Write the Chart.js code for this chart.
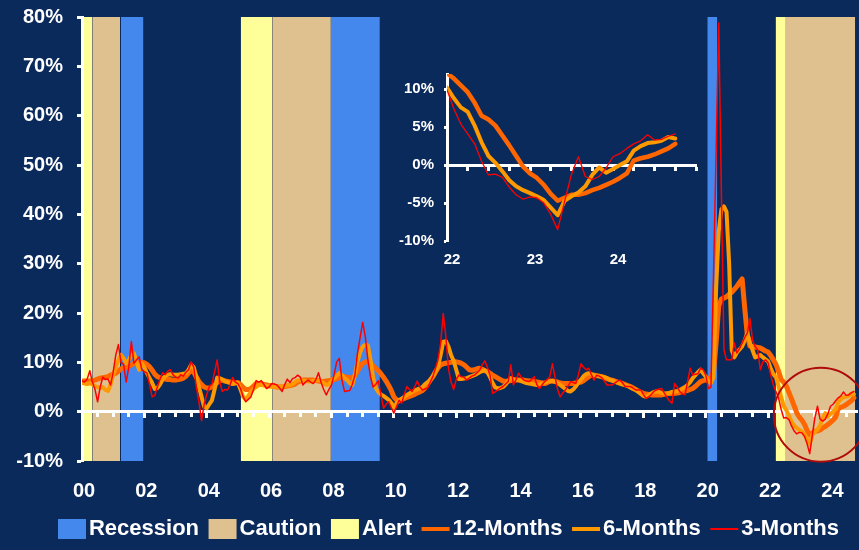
<!DOCTYPE html>
<html>
<head>
<meta charset="utf-8">
<script src="https://cdn.jsdelivr.net/npm/chart.js@4.4.1/dist/chart.umd.min.js"></script>
<style>
  html, body { margin: 0; padding: 0; background: #0b2a5c; }
  #wrap { position: relative; width: 859px; height: 550px; overflow: hidden; }
  #main { position: absolute; left: 0; top: 0; }
  #inset { position: absolute; left: 380px; top: 60px; }
</style>
</head>
<body>
<div id="wrap">
  <canvas id="main" width="859" height="550"></canvas>
  <canvas id="inset" width="330" height="215"></canvas>
</div>
<script>
// Monthly series, January 2000 through October 2024 (percent growth, annualised)
const startYear = 2000;

const months12 = [
  6.2, 6.2, 6.2, 6.2, 6.3, 6.4, 6.6, 6.8, 6.9, 7.0, 7.1, 7.4,      // 2000
  7.6, 7.8, 8.2, 8.7, 8.9, 9.0, 9.2, 9.5, 9.8, 9.9, 10.0, 10.0,    // 2001
  9.9, 9.6, 9.1, 8.4, 7.6, 7.1, 6.9, 6.7, 6.6, 6.5, 6.5, 6.4,      // 2002
  6.4, 6.5, 6.6, 6.8, 7.2, 7.8, 8.4, 8.0, 7.0, 6.1, 5.5, 5.0,      // 2003
  4.8, 4.8, 5.0, 5.4, 5.9, 6.3, 6.4, 6.2, 6.1, 6.0, 5.9, 5.8,      // 2004
  5.9, 5.5, 4.9, 4.5, 4.5, 4.7, 5.2, 5.7, 5.7, 5.6, 5.5, 5.4,      // 2005
  5.3, 5.2, 5.1, 5.0, 5.0, 5.0, 5.1, 5.2, 5.3, 5.4, 5.6, 6.0,      // 2006
  6.2, 6.4, 6.4, 6.4, 6.4, 6.4, 6.3, 6.2, 6.1, 6.1, 6.2, 6.3,      // 2007
  6.4, 6.5, 6.7, 6.9, 7.1, 7.1, 7.0, 6.9, 6.8, 7.3, 8.2, 9.1,      // 2008
  9.8, 10.1, 10.1, 9.8, 9.3, 8.8, 8.3, 7.7, 7.0, 6.2, 5.3, 4.3,    // 2009
  3.0, 2.4, 2.2, 2.5, 2.7, 2.9, 3.1, 3.3, 3.5, 3.8, 4.0, 4.3,      // 2010
  4.8, 5.6, 6.4, 7.1, 8.0, 8.9, 9.5, 9.7, 9.8, 9.9, 10.0, 10.1,    // 2011
  10.1, 10.0, 9.8, 9.5, 9.0, 8.5, 8.4, 8.5, 8.7, 8.8, 8.6, 8.3,    // 2012
  8.1, 7.8, 7.4, 7.1, 6.8, 6.5, 6.2, 6.1, 6.2, 6.3, 6.4, 6.4,      // 2013
  6.4, 6.4, 6.4, 6.3, 6.2, 6.2, 6.1, 6.0, 5.9, 5.8, 5.7, 5.9,      // 2014
  6.2, 6.2, 6.1, 6.0, 5.8, 5.7, 5.7, 5.7, 5.7, 5.7, 5.8, 5.9,      // 2015
  6.0, 6.3, 6.7, 7.1, 7.4, 7.4, 7.3, 7.2, 7.1, 6.9, 6.7, 6.5,      // 2016
  6.4, 6.2, 6.0, 5.8, 5.7, 5.5, 5.3, 5.1, 4.8, 4.5, 4.2, 3.9,      // 2017
  3.7, 3.6, 3.5, 3.4, 3.4, 3.4, 3.4, 3.4, 3.5, 3.6, 3.7, 3.7,      // 2018
  3.7, 3.8, 3.9, 4.1, 4.2, 4.3, 4.5, 4.7, 5.1, 5.6, 6.1, 6.3,      // 2019
  6.4, 6.6, 7.0, 8.0, 14.0, 21.5, 22.8, 23.0, 23.3, 23.8, 24.2, 24.8, // 2020
  25.4, 26.2, 26.9, 21.0, 15.5, 13.3, 13.2, 13.1, 13.0, 12.9, 12.6, 12.3, // 2021
  12.1, 11.4, 10.5, 9.6, 8.2, 6.5, 6.0, 5.2, 3.9, 2.6, 1.2, -0.2,  // 2022
  -1.1, -1.7, -2.6, -3.8, -4.7, -4.3, -3.9, -3.9, -3.7, -3.3, -3.0, -2.6, // 2023
  -2.2, -1.7, -1.1, 0.6, 0.9, 1.1, 1.4, 1.8, 2.2, 2.8              // 2024
];

const months6 = [
  5.8, 5.7, 5.6, 5.8, 5.5, 5.2, 5.0, 4.8, 5.0, 4.4, 4.2, 5.5,      // 2000
  7.5, 9.0, 10.5, 11.5, 10.8, 9.8, 10.5, 11.5, 11.8, 10.0, 8.5, 9.8, // 2001
  9.0, 7.8, 6.8, 5.8, 4.6, 4.8, 5.5, 6.5, 7.2, 7.5, 7.6, 7.5,      // 2002
  7.5, 7.5, 7.6, 7.7, 7.8, 8.5, 9.5, 9.0, 7.0, 5.0, 3.0, 1.0,      // 2003
  0.7, 1.5, 2.3, 4.5, 6.9, 6.8, 6.5, 6.2, 6.0, 5.8, 5.6, 5.8,      // 2004
  5.8, 4.5, 3.0, 2.5, 3.2, 4.0, 4.6, 5.0, 5.4, 5.4, 5.3, 5.2,      // 2005
  5.1, 5.1, 5.0, 5.0, 5.0, 5.1, 5.2, 5.3, 5.4, 5.6, 6.0, 6.3,      // 2006
  6.4, 6.3, 6.2, 6.1, 6.1, 6.2, 6.3, 6.4, 6.2, 5.8, 5.4, 5.6,      // 2007
  6.2, 6.8, 7.3, 7.8, 7.4, 6.8, 6.4, 5.8, 5.4, 7.5, 10.1, 12.0,    // 2008
  13.2, 13.5, 13.4, 10.5, 7.0, 4.8, 4.0, 3.5, 3.2, 2.8, 2.4, 1.8,  // 2009
  0.8, 1.7, 2.3, 2.6, 3.0, 3.4, 3.7, 4.0, 4.3, 4.5, 4.7, 5.0,      // 2010
  5.6, 6.0, 6.4, 7.2, 8.2, 9.1, 11.5, 14.2, 14.3, 13.2, 11.5, 10.3, // 2011
  8.5, 6.6, 6.6, 6.7, 6.8, 7.0, 7.2, 7.4, 7.7, 8.0, 8.2, 8.4,      // 2012
  8.0, 7.0, 5.8, 4.9, 4.7, 4.8, 5.0, 5.5, 6.2, 6.8, 6.6, 6.4,      // 2013
  6.4, 6.2, 6.0, 5.8, 5.7, 5.6, 5.5, 5.4, 5.5, 5.7, 5.9, 6.1,      // 2014
  6.1, 6.2, 6.1, 5.8, 5.4, 5.0, 4.6, 4.2, 4.1, 4.5, 5.1, 5.9,      // 2015
  6.5, 7.2, 7.6, 7.8, 7.6, 7.4, 7.3, 7.2, 7.1, 7.0, 6.8, 6.5,      // 2016
  6.3, 6.1, 5.9, 5.7, 5.5, 5.4, 5.2, 4.9, 4.6, 4.4, 4.0, 3.6,      // 2017
  3.2, 3.0, 3.3, 3.7, 4.0, 4.1, 4.0, 3.8, 3.7, 3.7, 3.8, 4.0,      // 2018
  4.1, 4.2, 4.4, 4.7, 5.0, 5.4, 6.0, 6.8, 7.4, 8.0, 8.5, 7.8,      // 2019
  7.1, 6.1, 5.8, 7.0, 25.0, 36.5, 41.0, 41.6, 40.5, 30.0, 12.5, 11.0, // 2020
  12.0, 12.6, 13.2, 14.5, 15.9, 14.0, 12.5, 11.0, 11.2, 11.5, 11.0, 10.6, // 2021
  10.2, 8.8, 7.6, 7.0, 5.2, 3.0, 1.2, 0.3, -0.8, -2.0, -2.8, -3.3, // 2022
  -3.7, -4.1, -4.6, -5.6, -6.6, -4.7, -4.1, -3.6, -2.8, -1.3, -0.3, -1.0, // 2023
  -0.5, 0.0, 0.5, 1.9, 2.5, 2.9, 3.0, 3.2, 3.7, 3.5                // 2024
];

const months3 = [
  6.2, 6.0, 6.6, 8.3, 6.0, 4.5, 2.0, 5.0, 7.0, 6.5, 6.6, 5.4,      // 2000
  8.0, 11.5, 13.6, 10.0, 9.6, 6.0, 9.0, 14.2, 9.8, 10.5, 11.1, 8.5, // 2001
  8.1, 7.8, 5.5, 3.0, 3.3, 5.0, 6.5, 7.9, 7.5, 8.2, 8.5, 7.5,      // 2002
  7.0, 6.8, 7.5, 7.2, 8.0, 8.5, 10.1, 9.0, 5.0, 2.0, -1.8, 1.5,    // 2003
  3.5, 5.1, 5.6, 8.0, 10.5, 6.0, 4.1, 4.5, 4.4, 5.5, 6.9, 6.0,     // 2004
  5.7, 4.7, 3.0, 2.0, 2.5, 3.0, 4.5, 6.3, 6.0, 6.3, 5.5, 4.7,      // 2005
  5.0, 5.7, 5.6, 5.4, 4.8, 4.1, 5.5, 6.6, 5.9, 6.7, 6.9, 7.4,      // 2006
  7.0, 5.4, 6.0, 6.4, 6.0, 5.7, 6.5, 7.9, 5.9, 4.5, 3.4, 4.5,      // 2007
  5.4, 7.5, 10.1, 10.8, 6.5, 4.1, 4.2, 4.3, 5.5, 7.4, 11.8, 15.0,  // 2008
  18.1, 15.2, 10.5, 7.1, 5.0, 5.5, 6.3, 3.5, 0.7, 1.5, 2.0, 0.8,   // 2009
  -0.3, 1.0, 2.3, 1.7, 3.5, 5.1, 4.5, 4.1, 5.0, 6.2, 5.0, 4.4,     // 2010
  4.6, 4.8, 6.0, 7.1, 8.8, 10.5, 13.9, 19.9, 15.2, 8.8, 6.0, 4.5,  // 2011
  6.5, 7.4, 7.1, 7.0, 6.4, 6.8, 7.2, 7.4, 7.9, 8.4, 9.5, 10.3,     // 2012
  9.0, 7.4, 3.7, 4.0, 4.4, 4.8, 5.1, 5.6, 6.1, 9.5, 5.4, 6.5,      // 2013
  7.8, 7.0, 6.4, 6.2, 6.1, 6.5, 7.1, 5.5, 4.7, 5.4, 6.1, 6.5,      // 2014
  7.1, 9.7, 7.0, 4.5, 3.0, 3.8, 4.4, 5.2, 6.1, 5.9, 5.7, 7.5,      // 2015
  9.7, 9.0, 8.5, 8.8, 7.5, 6.4, 7.4, 7.2, 6.9, 6.2, 5.4, 5.4,      // 2016
  5.4, 5.8, 6.2, 6.4, 5.8, 5.1, 5.1, 5.1, 4.8, 4.4, 4.4, 4.4,      // 2017
  3.5, 2.7, 3.0, 3.4, 4.1, 4.4, 4.6, 4.7, 3.8, 3.0, 2.2, 1.7,      // 2018
  5.7, 5.0, 4.1, 3.6, 3.4, 6.0, 8.8, 7.4, 7.6, 7.7, 8.8, 8.5,      // 2019
  7.4, 4.7, 5.0, 28.0, 53.0, 78.8, 45.0, 12.5, 10.5, 10.5, 10.5, 13.9, // 2020
  11.9, 12.8, 13.9, 15.0, 15.9, 18.9, 14.5, 13.2, 12.5, 8.5, 10.1, 10.5, // 2021
  9.9, 7.4, 5.4, 4.1, 2.8, 0.5, -1.3, -1.2, -1.6, -2.9, -3.9, -4.5, // 2022
  -4.2, -4.3, -5.0, -6.5, -8.5, -4.8, -1.2, 1.1, -1.5, -1.9, -1.5, -0.4, // 2023
  1.1, 1.5, 2.2, 2.8, 3.2, 4.0, 3.3, 3.4, 3.8, 4.1                 // 2024
];

// Shaded business-cycle phases, [start, end] in decimal years
const recessionSpans = [[2001.25, 2001.97], [2007.98, 2009.55], [2020.05, 2020.37]];
const cautionSpans   = [[2000.33, 2001.22], [2006.10, 2007.98], [2022.57, 2024.79]];
const alertSpans     = [[2000.00, 2000.33], [2005.09, 2006.10], [2022.24, 2022.57]];

// Axis ticks
const yearTicks  = [2000, 2002, 2004, 2006, 2008, 2010, 2012, 2014, 2016, 2018, 2020, 2022, 2024];
const pctTicks   = [-10, 0, 10, 20, 30, 40, 50, 60, 70, 80];
const insetYears = [2022, 2023, 2024];
const insetPct   = [-10, -5, 0, 5, 10];
const insetStartIndex = (2022 - startYear) * 12;

// Circled area on the main chart
const highlight = { x: 2023.69, y: -0.6, radius: 47 };

const FONT = '"Liberation Sans", Arial, Helvetica, sans-serif';
const WHITE = '#ffffff';
const C_RECESSION = '#4488ee';
const C_CAUTION = '#dec18f';
const C_ALERT = '#ffff99';
const C_12 = '#ff6600';
const C_6 = '#ff9900';
const C_3 = '#ff0000';

const monthValue = i => startYear + i / 12;
const toPoints = (vals, offset = 0) => vals.map((v, i) => ({ x: monthValue(i + offset), y: v }));

function spanSets(spans, color) {
  return spans.map(([a, b]) => ({
    data: [{ x: a, y: 80 }, { x: b, y: 80 }],
    borderWidth: 0, pointRadius: 0, fill: 'start',
    backgroundColor: color, order: 10
  }));
}

function lineSet(label, vals, color, width, order, offset = 0) {
  return {
    label, data: toPoints(vals, offset), borderColor: color, borderWidth: width,
    pointRadius: 0, fill: false, tension: 0, order,
    borderJoinStyle: 'round', borderCapStyle: 'round'
  };
}

// Legend symbols: a swatch sitting just left of its text
function legendIcon(color, h) {
  const c = document.createElement('canvas');
  c.width = 38; c.height = 20;
  const g = c.getContext('2d');
  g.fillStyle = color;
  g.fillRect(9, (20 - h) / 2, 28, h);
  return c;
}
const legendEntries = [
  { text: 'Recession', icon: legendIcon(C_RECESSION, 20) },
  { text: 'Caution',   icon: legendIcon(C_CAUTION, 20) },
  { text: 'Alert',     icon: legendIcon(C_ALERT, 20) },
  { text: '12-Months', icon: legendIcon(C_12, 4) },
  { text: '6-Months',  icon: legendIcon(C_6, 4) },
  { text: '3-Months',  icon: legendIcon(C_3, 2) }
];

const halfYears = [];
for (let v = 2000.5; v <= 2024.8; v += 0.5) halfYears.push(v);
const quarters = [];
for (let v = 2022.25; v <= 2025.001; v += 0.25) quarters.push(v);

const circlePlugin = {
  id: 'circleMark',
  afterDatasetsDraw(chart) {
    const { ctx, scales } = chart;
    ctx.save();
    ctx.beginPath();
    ctx.arc(scales.x.getPixelForValue(highlight.x), scales.y.getPixelForValue(highlight.y),
            highlight.radius, 0, Math.PI * 2);
    ctx.strokeStyle = '#b00a0a';
    ctx.lineWidth = 2;
    ctx.stroke();
    ctx.restore();
  }
};

// The legend row starts a little right of the canvas edge
const legendInset = {
  id: 'legendInset',
  afterLayout(chart) { if (chart.legend) chart.legend.left = 40; }
};

// Tick labels may overhang the plot edges without shrinking the plot
const noLabelPadding = s => { s.paddingTop = 0; s.paddingBottom = 0; s.paddingLeft = 0; s.paddingRight = 0; };

const tickFont = { family: FONT, size: 20, weight: 'bold' };

new Chart(document.getElementById('main'), {
  type: 'line',
  data: {
    datasets: [
      lineSet('3-Months', months3, C_3, 1.5, 0),
      lineSet('6-Months', months6, C_6, 4, 1),
      lineSet('12-Months', months12, C_12, 5, 2),
      ...spanSets(recessionSpans, C_RECESSION),
      ...spanSets(cautionSpans, C_CAUTION),
      ...spanSets(alertSpans, C_ALERT)
    ]
  },
  options: {
    responsive: false,
    animation: false,
    events: [],
    layout: { padding: { left: 0, right: 2, top: 17, bottom: 0 } },
    plugins: {
      filler: { drawTime: 'beforeDraw' },
      tooltip: { enabled: false },
      legend: {
        position: 'bottom',
        align: 'center',
        labels: {
          usePointStyle: true,
          pointStyleWidth: 20,
          boxHeight: 22,
          padding: 9.5,
          color: WHITE,
          font: { family: FONT, size: 22, weight: 'bold' },
          generateLabels: () => legendEntries.map(e => ({
            text: e.text, pointStyle: e.icon, fillStyle: 'rgba(0,0,0,0)',
            strokeStyle: 'rgba(0,0,0,0)', lineWidth: 0, hidden: false, fontColor: WHITE
          }))
        }
      }
    },
    scales: {
      x: {
        type: 'linear', position: 'bottom', min: 2000, max: 2024.85,
        afterBuildTicks: s => { s.ticks = yearTicks.map(v => ({ value: v })); },
        afterFit: s => { s.height = 47.5; noLabelPadding(s); },
        grid: { display: false, drawTicks: false },
        border: { display: false },
        ticks: {
          color: WHITE, font: tickFont, padding: 18, labelOffset: 2,
          maxRotation: 0, autoSkip: false,
          callback: v => String(Math.round(v) % 100).padStart(2, '0')
        }
      },
      xZero: {
        type: 'linear', position: { y: 0 }, min: 2000, max: 2024.85,
        afterBuildTicks: s => { s.ticks = halfYears.map(v => ({ value: v })); },
        afterFit: noLabelPadding,
        grid: { drawOnChartArea: false, drawTicks: true, tickLength: 4, tickColor: WHITE, tickWidth: 3 },
        border: { display: true, color: WHITE, width: 3 },
        ticks: { display: false }
      },
      xZeroMajor: {
        type: 'linear', position: { y: 0 }, min: 2000, max: 2024.85,
        afterBuildTicks: s => { s.ticks = yearTicks.map(v => ({ value: v })); },
        afterFit: noLabelPadding,
        grid: { drawOnChartArea: false, drawTicks: true, tickLength: 6, tickColor: WHITE, tickWidth: 3 },
        border: { display: false },
        ticks: { display: false }
      },
      y: {
        type: 'linear', position: 'left', min: -10, max: 80,
        afterBuildTicks: s => { s.ticks = pctTicks.map(v => ({ value: v })); },
        afterFit: s => { s.width = 82; noLabelPadding(s); },
        grid: { drawOnChartArea: false, drawTicks: true, tickLength: 5, tickColor: WHITE, tickWidth: 3 },
        border: { display: true, color: WHITE, width: 3 },
        ticks: { color: WHITE, font: tickFont, padding: 14, callback: v => v + '%' }
      }
    }
  },
  plugins: [circlePlugin, legendInset]
});

// Inset: close-up of 2022 onwards
const insetFont = { family: FONT, size: 15, weight: 'bold' };
new Chart(document.getElementById('inset'), {
  type: 'line',
  data: {
    datasets: [
      lineSet('3-Months', months3.slice(insetStartIndex), C_3, 1.3, 0, insetStartIndex),
      lineSet('6-Months', months6.slice(insetStartIndex), C_6, 4, 1, insetStartIndex),
      lineSet('12-Months', months12.slice(insetStartIndex), C_12, 4.5, 2, insetStartIndex)
    ]
  },
  options: {
    responsive: false,
    animation: false,
    events: [],
    layout: { padding: { left: 0, right: 14, top: 14, bottom: 0 } },
    plugins: { legend: { display: false }, tooltip: { enabled: false } },
    scales: {
      x: {
        type: 'linear', position: 'bottom', min: 2022, max: 2025,
        afterBuildTicks: s => { s.ticks = insetYears.map(v => ({ value: v })); },
        afterFit: s => { s.height = 34; noLabelPadding(s); },
        grid: { display: false, drawTicks: false },
        border: { display: false },
        ticks: {
          color: WHITE, font: insetFont, padding: 10, labelOffset: 5,
          maxRotation: 0, autoSkip: false,
          callback: v => String(Math.round(v) % 100).padStart(2, '0')
        }
      },
      xZero: {
        type: 'linear', position: { y: 0 }, min: 2022, max: 2025,
        afterBuildTicks: s => { s.ticks = quarters.map(v => ({ value: v })); },
        afterFit: noLabelPadding,
        grid: { drawOnChartArea: false, drawTicks: true, tickLength: 4, tickColor: WHITE, tickWidth: 3 },
        border: { display: true, color: WHITE, width: 3 },
        ticks: { display: false }
      },
      y: {
        type: 'linear', position: 'left', min: -10, max: 12,
        afterBuildTicks: s => { s.ticks = insetPct.map(v => ({ value: v })); },
        afterFit: s => { s.width = 67; noLabelPadding(s); },
        grid: { drawOnChartArea: false, drawTicks: true, tickLength: 3, tickColor: WHITE, tickWidth: 3 },
        border: { display: true, color: WHITE, width: 3 },
        ticks: { color: WHITE, font: insetFont, padding: 10, callback: v => v + '%' }
      }
    }
  }
});
</script>
</body>
</html>
